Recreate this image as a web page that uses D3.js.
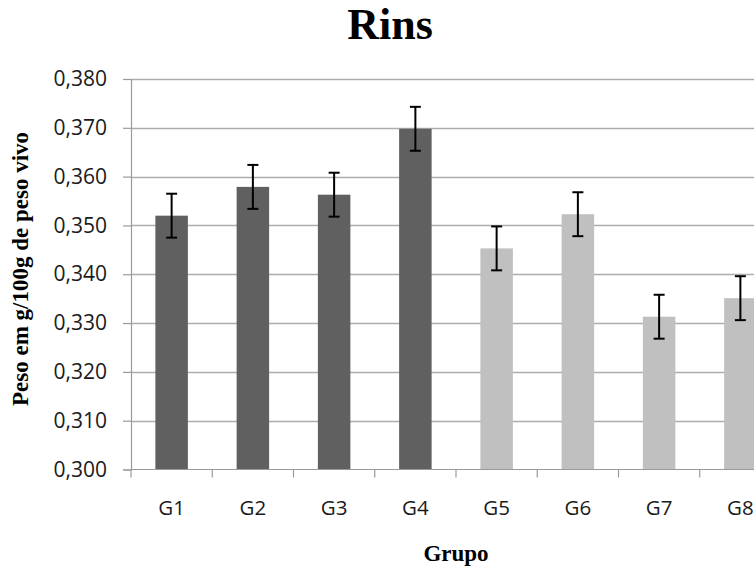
<!DOCTYPE html>
<html>
<head>
<meta charset="utf-8">
<script src="https://cdn.jsdelivr.net/npm/d3@7"></script>
<style>
  html, body { margin: 0; padding: 0; background: #fff; overflow: hidden; }
  svg { display: block; }
</style>
</head>
<body>
<svg id="chart" width="754" height="566"></svg>
<script>
// Relative kidney weight per group (g / 100 g body weight)
const groups = ["G1", "G2", "G3", "G4", "G5", "G6", "G7", "G8"];
const means  = [0.3520, 0.3579, 0.3563, 0.3698, 0.3453, 0.3523, 0.3313, 0.3351];
const errors = [0.0045, 0.0045, 0.0045, 0.0045, 0.0045, 0.0045, 0.0045, 0.0045];
const barColors = ["#606060", "#606060", "#606060", "#606060", "#c0c0c0", "#c0c0c0", "#c0c0c0", "#c0c0c0"];
const yTicks = [0.300, 0.310, 0.320, 0.330, 0.340, 0.350, 0.360, 0.370, 0.380];

const titleText = "Rins";
const yTitleText = "Peso em g/100g de peso vivo";
const xTitleText = "Grupo";

const svg = d3.select("#chart");

// Plot area (extends past the right edge of the viewport)
const plot = { left: 131, top: 79, right: 781, bottom: 469.5 };

const x = d3.scaleBand()
  .domain(groups)
  .range([plot.left, plot.right])
  .paddingInner(0.6)
  .paddingOuter(0.3);

const bandStep = (plot.right - plot.left) / groups.length;

const y = d3.scaleLinear()
  .domain([0.300, 0.380])
  .range([plot.bottom, plot.top]);

const locale = d3.formatLocale({ decimal: ",", thousands: ".", grouping: [3], currency: ["R$", ""] });
const fmt = locale.format(".3f");

const tickFont = "'Open Sans', 'Liberation Sans', sans-serif";
const serif = "'Liberation Serif', 'Times New Roman', serif";

// Horizontal gridlines
svg.append("g")
  .selectAll("line")
  .data(yTicks.filter(t => t > 0.300))
  .join("line")
  .attr("x1", plot.left)
  .attr("x2", plot.right)
  .attr("y1", d => Math.round(y(d)) + 0.5)
  .attr("y2", d => Math.round(y(d)) + 0.5)
  .attr("stroke", "#adadad")
  .attr("stroke-width", 1.5);

// Y axis
const yAxis = svg.append("g")
  .attr("transform", `translate(${plot.left},0)`)
  .call(d3.axisLeft(y).tickValues(yTicks).tickFormat(fmt).tickSize(8).tickPadding(16));
yAxis.select(".domain").attr("stroke", "#9a9a9a").attr("stroke-width", 1.2);
yAxis.selectAll(".tick line").attr("stroke", "#9a9a9a").attr("stroke-width", 1.2);
yAxis.selectAll(".tick text")
  .attr("font-family", tickFont)
  .attr("font-size", 21)
  .attr("fill", "#1a1a1a");

// Bars
svg.append("g")
  .selectAll("rect")
  .data(groups)
  .join("rect")
  .attr("x", d => x(d))
  .attr("width", x.bandwidth())
  .attr("y", (d, i) => y(means[i]))
  .attr("height", (d, i) => y(0.300) - y(means[i]))
  .attr("fill", (d, i) => barColors[i]);

// X axis with ticks between categories
const xAxis = svg.append("g").attr("transform", `translate(0,${plot.bottom})`);
xAxis.append("line")
  .attr("x1", plot.left).attr("x2", plot.right)
  .attr("y1", 0).attr("y2", 0)
  .attr("stroke", "#9a9a9a").attr("stroke-width", 1.2);
xAxis.selectAll("line.sep")
  .data(d3.range(groups.length + 1))
  .join("line")
  .attr("class", "sep")
  .attr("x1", i => plot.left + i * bandStep)
  .attr("x2", i => plot.left + i * bandStep)
  .attr("y1", 0).attr("y2", 8)
  .attr("stroke", "#9a9a9a").attr("stroke-width", 1.2);
xAxis.selectAll("text")
  .data(groups)
  .join("text")
  .attr("x", d => x(d) + x.bandwidth() / 2)
  .attr("y", 45)
  .attr("text-anchor", "middle")
  .attr("font-family", tickFont)
  .attr("font-size", 20.5)
  .attr("fill", "#1a1a1a")
  .text(d => d);

// Error bars
const err = svg.append("g")
  .attr("stroke", "#000")
  .attr("stroke-width", 2)
  .attr("fill", "none");
groups.forEach((g, i) => {
  const cx = x(g) + x.bandwidth() / 2;
  const yHi = y(means[i] + errors[i]);
  const yLo = y(means[i] - errors[i]);
  err.append("line").attr("x1", cx).attr("x2", cx).attr("y1", yHi).attr("y2", yLo);
  err.append("line").attr("x1", cx - 5.5).attr("x2", cx + 5.5).attr("y1", yHi).attr("y2", yHi);
  err.append("line").attr("x1", cx - 5.5).attr("x2", cx + 5.5).attr("y1", yLo).attr("y2", yLo);
});

// Chart title
svg.append("text")
  .attr("x", 390)
  .attr("y", 39)
  .attr("text-anchor", "middle")
  .attr("font-family", serif)
  .attr("font-weight", "bold")
  .attr("font-size", 44)
  .attr("fill", "#000")
  .text(titleText);

// Y axis title
svg.append("text")
  .attr("transform", `translate(28,269) rotate(-90)`)
  .attr("text-anchor", "middle")
  .attr("font-family", serif)
  .attr("font-weight", "bold")
  .attr("font-size", 23)
  .attr("fill", "#000")
  .text(yTitleText);

// X axis title
svg.append("text")
  .attr("x", (plot.left + plot.right) / 2)
  .attr("y", 561)
  .attr("text-anchor", "middle")
  .attr("font-family", serif)
  .attr("font-weight", "bold")
  .attr("font-size", 23)
  .attr("fill", "#000")
  .text(xTitleText);
</script>
</body>
</html>
